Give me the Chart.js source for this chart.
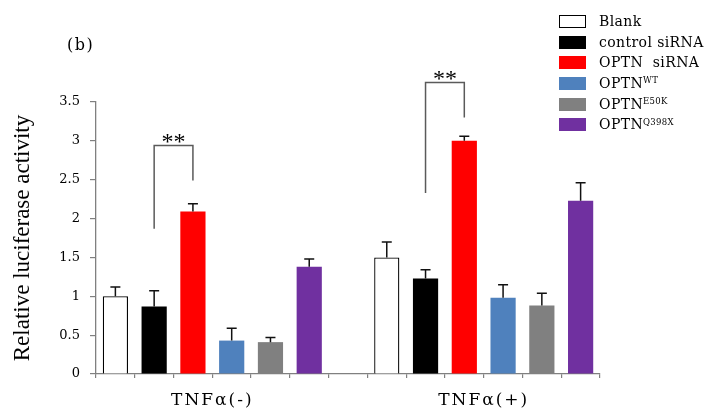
<!DOCTYPE html>
<html><head><meta charset="utf-8">
<script src="https://cdn.jsdelivr.net/npm/chart.js@4.4.1/dist/chart.umd.min.js"></script>
<style>
html,body{margin:0;padding:0;background:#fff;}
#wrap{position:relative;width:708px;height:414px;overflow:hidden;background:#fff;}
#c{position:absolute;left:0;top:0;}
#panel{position:absolute;left:67px;top:37px;font:16px 'DejaVu Serif';line-height:16px;letter-spacing:1.5px;color:#000;}
.leg{position:absolute;left:559px;height:14px;width:149px;}
.box{position:absolute;left:0;top:0;width:27px;height:13px;box-sizing:border-box;}
.txt{position:absolute;left:40px;top:0;font:14px 'DejaVu Serif';line-height:13px;letter-spacing:0.4px;white-space:pre;color:#000;}
.txt sup{font-size:8.5px;letter-spacing:0.3px;vertical-align:baseline;position:relative;top:-4.5px;}
</style></head>
<body>
<div id="wrap">
<canvas id="c" width="708" height="414"></canvas>
<div id="panel">(b)</div>
<div id="legend"></div>
</div>
<script>
// ---- data ----
const groups = ['TNFα(-)', 'TNFα(+)'];
const seriesNames = ['Blank', 'control siRNA', 'OPTN  siRNA', 'OPTN', 'OPTN', 'OPTN'];
const seriesSup = ['', '', '', 'WT', 'E50K', 'Q398X'];
const seriesColors = ['#ffffff', '#000000', '#ff0000', '#4f81bd', '#808080', '#7030a0'];

const valBlank   = [1.00, 1.50];
const valControl = [0.87, 1.23];
const valOptnSi  = [2.09, 3.00];
const valWT      = [0.43, 0.98];
const valE50K    = [0.41, 0.88];
const valQ398X   = [1.38, 2.23];

const errBlank   = [0.12, 0.20];
const errControl = [0.20, 0.11];
const errOptnSi  = [0.10, 0.06];
const errWT      = [0.16, 0.17];
const errE50K    = [0.06, 0.16];
const errQ398X   = [0.10, 0.23];

const yTickValues = [0, 0.5, 1, 1.5, 2, 2.5, 3, 3.5];
const yTickLabels = ['0', '0.5', '1', '1.5', '2', '2.5', '3', '3.5'];

// significance brackets (values in data units)
const sigBrackets = [
  {group: 0, from: 1, to: 2, leftEnd: 1.87, top: 2.94, rightEnd: 2.49, label: '**'},
  {group: 1, from: 1, to: 2, leftEnd: 2.33, top: 3.75, rightEnd: 3.30, label: '**'}
];

// ---- build ----
const seriesValues = [valBlank, valControl, valOptnSi, valWT, valE50K, valQ398X];
const seriesErrors = [errBlank, errControl, errOptnSi, errWT, errE50K, errQ398X];
const nSeries = seriesValues.length;
const slotsPerGroup = nSeries + 1;
const nSlots = groups.length * slotsPerGroup - 1;
const slotIndex = (g, s) => g * slotsPerGroup + s;
const labelSlot = 2;

const slotLabels = [];
for (let i = 0; i < nSlots; i++) slotLabels.push('');
groups.forEach((g, gi) => { slotLabels[slotIndex(gi, labelSlot)] = g; });

const datasets = seriesValues.map((vals, s) => {
  const data = new Array(nSlots).fill(null);
  vals.forEach((v, g) => { data[slotIndex(g, s)] = v; });
  return {
    label: seriesNames[s] + seriesSup[s],
    data: data,
    backgroundColor: seriesColors[s],
    borderColor: s === 0 ? '#000000' : seriesColors[s],
    borderWidth: s === 0 ? 1.3 : 0,
    skipNull: true,
    categoryPercentage: 0.65,
    barPercentage: 1.0
  };
});

// legend (HTML, for superscripts)
const legendEl = document.getElementById('legend');
seriesNames.forEach((n, i) => {
  const row = document.createElement('div');
  row.className = 'leg';
  row.style.top = (15 + i * 20.66) + 'px';
  const box = document.createElement('div');
  box.className = 'box';
  box.style.background = seriesColors[i];
  if (i === 0) box.style.border = '1.6px solid #000';
  const t = document.createElement('div');
  t.className = 'txt';
  t.textContent = n;
  if (seriesSup[i]) {
    const sp = document.createElement('sup');
    sp.textContent = seriesSup[i];
    t.appendChild(sp);
  }
  row.appendChild(box); row.appendChild(t);
  legendEl.appendChild(row);
});

const spacingPlugin = {
  id: 'spacing',
  beforeDraw(chart) {
    const wrap = (sc, sp) => {
      if (!sc || sc._lsw) return;
      const orig = sc.drawLabels.bind(sc);
      sc.drawLabels = function (a) { const c = this.ctx; c.save(); c.letterSpacing = sp; orig(a); c.restore(); };
      sc._lsw = true;
    };
    wrap(chart.scales.x, '2px');
  }
};

const errPlugin = {
  id: 'errbars',
  afterDatasetsDraw(chart) {
    const ctx = chart.ctx, ys = chart.scales.y;
    ctx.save();
    ctx.strokeStyle = '#111';
    ctx.lineWidth = 1.5;
    seriesErrors.forEach((errs, s) => {
      const meta = chart.getDatasetMeta(s);
      errs.forEach((e, g) => {
        const idx = slotIndex(g, s);
        const bar = meta.data[idx];
        const v = seriesValues[s][g];
        const x = bar.x, y0 = ys.getPixelForValue(v), y1 = ys.getPixelForValue(v + e);
        ctx.beginPath();
        ctx.moveTo(x, y0); ctx.lineTo(x, y1);
        ctx.moveTo(x - 5, y1); ctx.lineTo(x + 5, y1);
        ctx.stroke();
      });
    });
    ctx.restore();
  },
  afterDraw(chart) {
    const ctx = chart.ctx, ys = chart.scales.y;
    ctx.save();
    sigBrackets.forEach(b => {
      const xa = chart.getDatasetMeta(b.from).data[slotIndex(b.group, b.from)].x;
      const xb = chart.getDatasetMeta(b.to).data[slotIndex(b.group, b.to)].x;
      const yt = ys.getPixelForValue(b.top);
      ctx.strokeStyle = '#5a5a5a';
      ctx.lineWidth = 1.5;
      ctx.beginPath();
      ctx.moveTo(xa, ys.getPixelForValue(b.leftEnd));
      ctx.lineTo(xa, yt);
      ctx.lineTo(xb, yt);
      ctx.lineTo(xb, ys.getPixelForValue(b.rightEnd));
      ctx.stroke();
      ctx.fillStyle = '#000';
      ctx.font = '24px "Liberation Serif"';
      ctx.textAlign = 'center';
      ctx.textBaseline = 'alphabetic';
      ctx.fillText(b.label, (xa + xb) / 2, yt + 3);
    });
    ctx.restore();
  }
};

new Chart(document.getElementById('c'), {
  type: 'bar',
  data: { labels: slotLabels, datasets: datasets },
  options: {
    responsive: false,
    animation: false,
    devicePixelRatio: 1,
    layout: { padding: { top: 102, right: 108, left: 0, bottom: 0 } },
    plugins: { legend: { display: false }, tooltip: { enabled: false } },
    scales: {
      x: {
        offset: true,
        afterFit(s) { s.height = 40; },
        grid: { display: true, drawOnChartArea: false, drawTicks: true, tickLength: 4, color: '#808080', offset: true, lineWidth: 1.2 },
        border: { display: true, color: '#808080', width: 1.3 },
        ticks: {
          autoSkip: false, maxRotation: 0, minRotation: 0,
          labelOffset: 19.4, padding: 12, color: '#000',
          font: { family: 'DejaVu Serif', size: 17 }
        }
      },
      y: {
        min: 0, max: 3.5,
        afterFit(s) { s.width = 96; },
        afterBuildTicks(s) { s.ticks = yTickValues.map(v => ({ value: v })); },
        grid: { display: true, drawOnChartArea: false, drawTicks: true, tickLength: 6, color: '#808080', lineWidth: 1.2 },
        border: { display: true, color: '#808080', width: 1.3 },
        ticks: {
          padding: 10, color: '#000',
          font: { family: 'DejaVu Serif', size: 13 },
          callback(v) { const i = yTickValues.indexOf(v); return i >= 0 ? yTickLabels[i] : ''; }
        },
        title: {
          display: true, text: 'Relative luciferase activity', color: '#000',
          font: { family: 'Liberation Serif', size: 23 },
          padding: { top: 9, bottom: 0 }
        }
      }
    }
  },
  plugins: [spacingPlugin, errPlugin]
});
</script>
</body></html>
